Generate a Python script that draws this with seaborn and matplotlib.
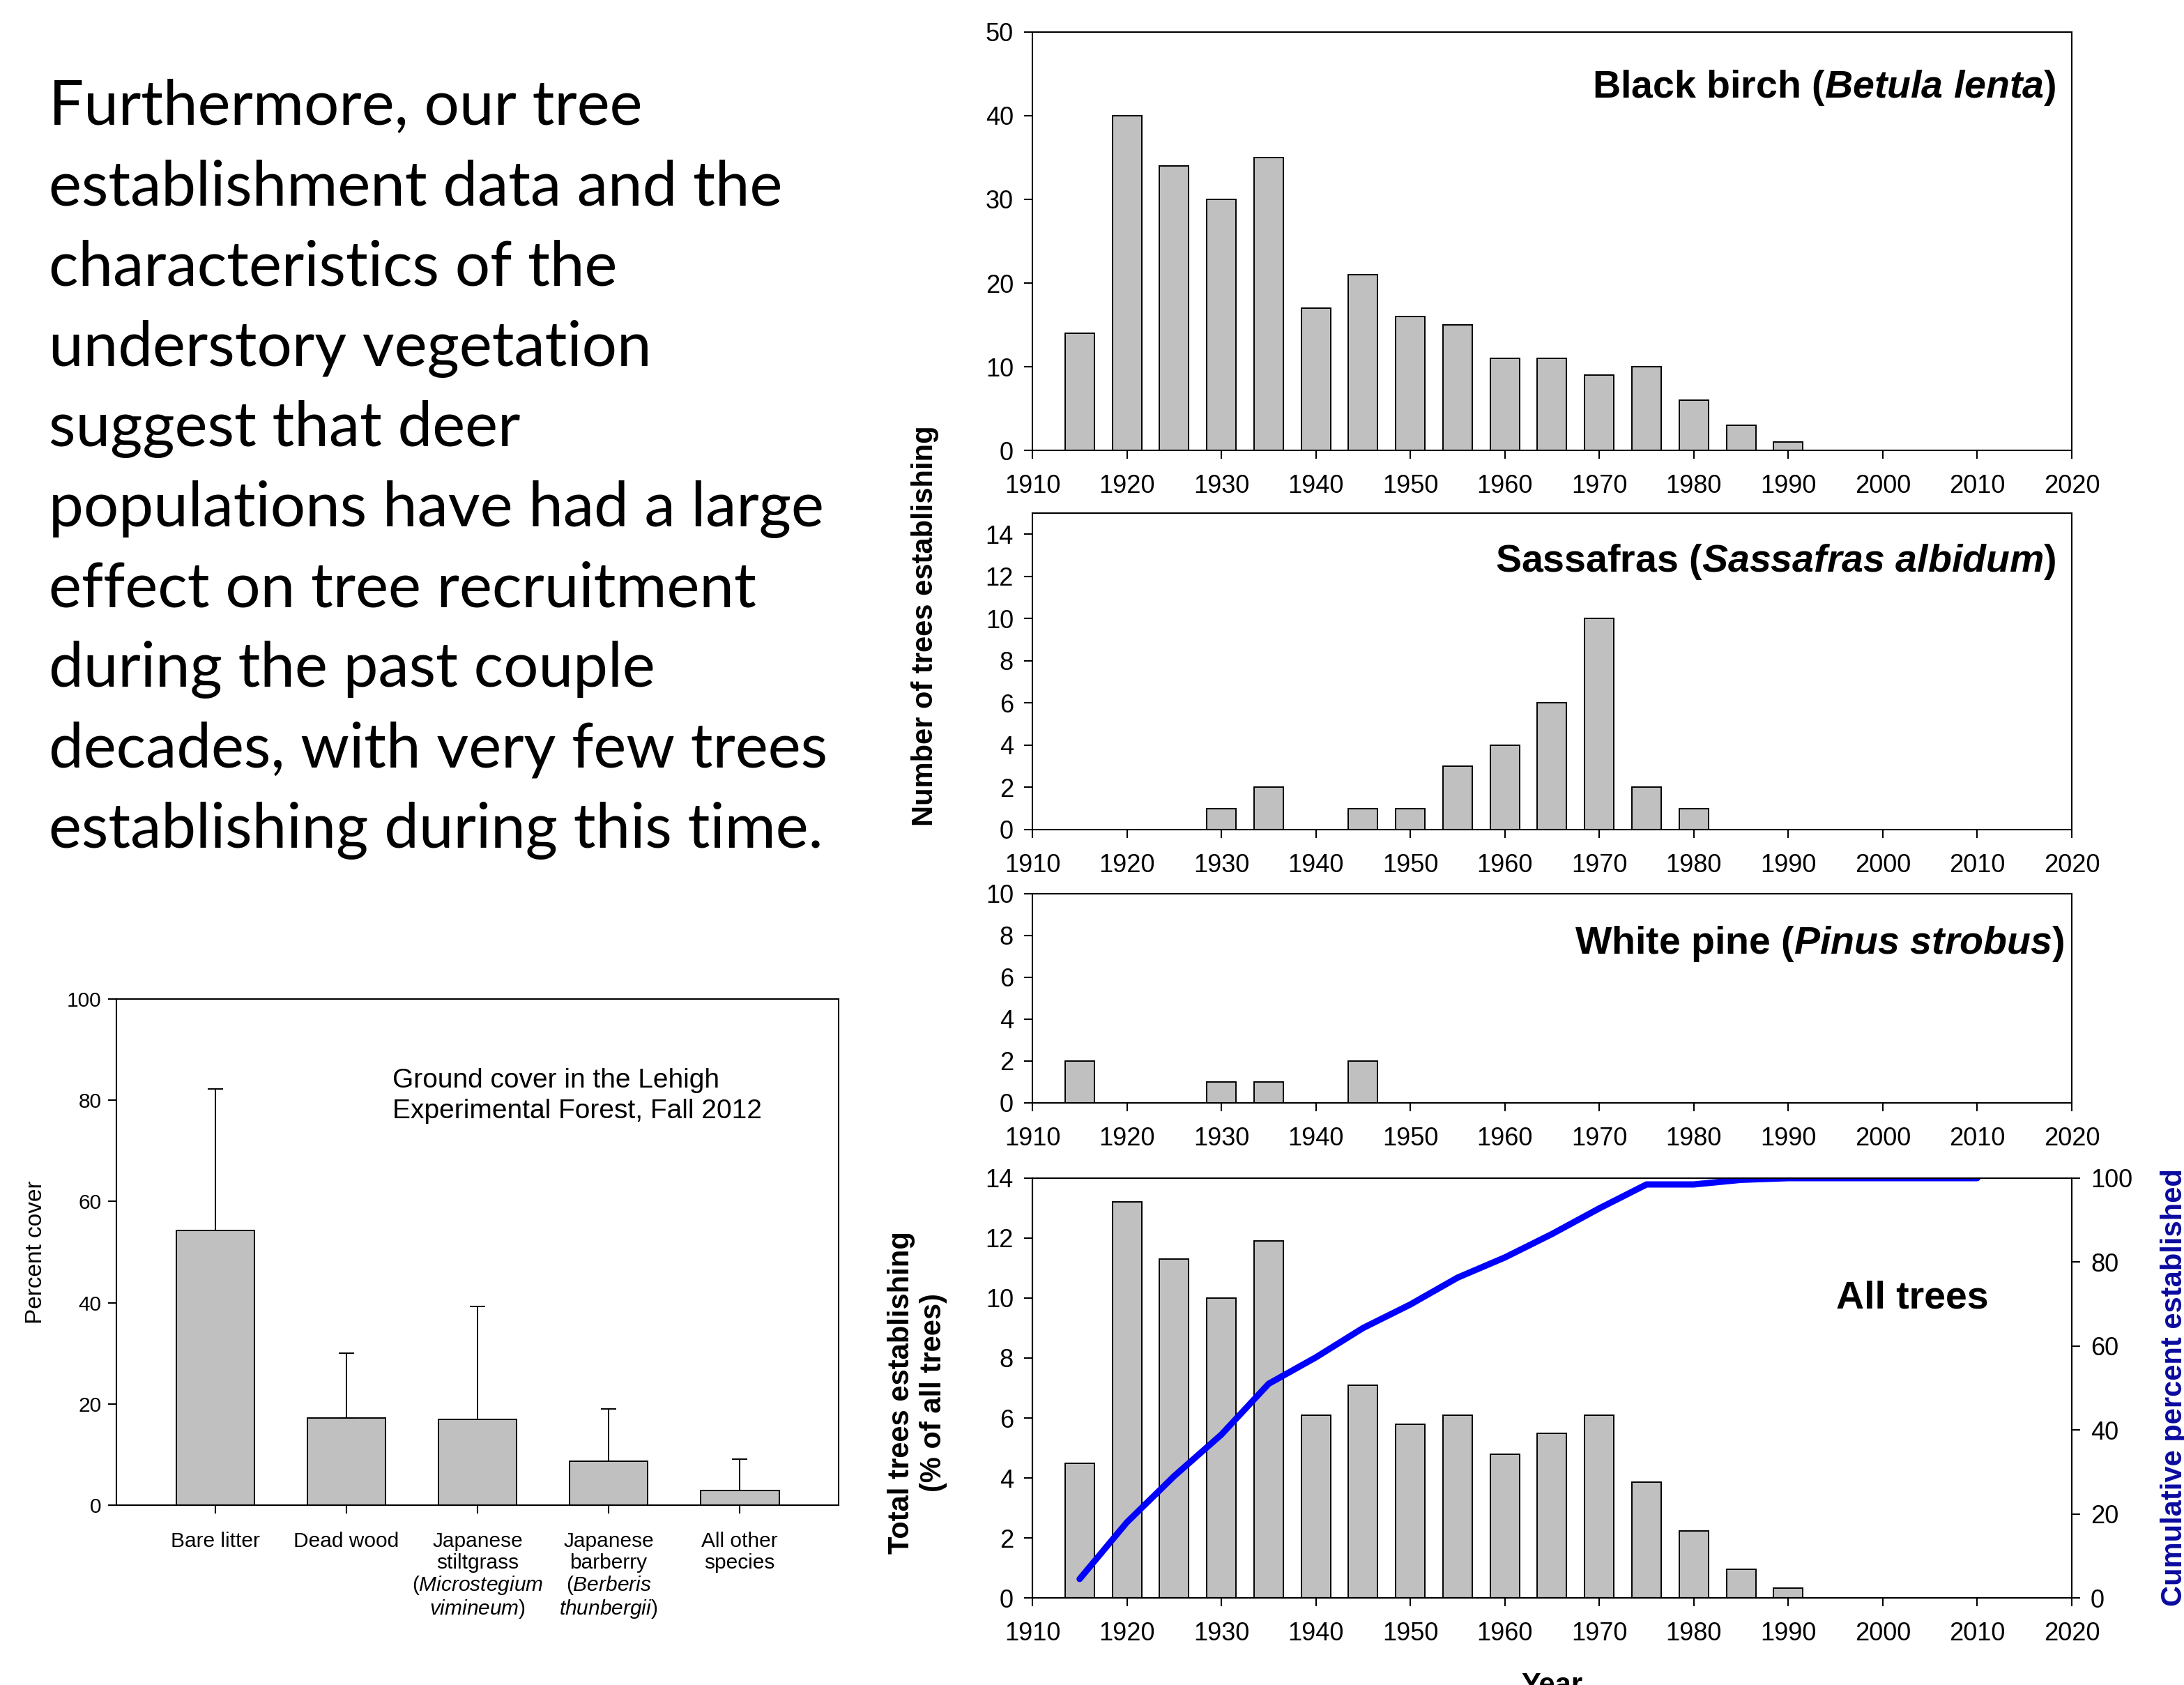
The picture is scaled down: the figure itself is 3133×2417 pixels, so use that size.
import numpy as np
import pandas as pd
import matplotlib
matplotlib.use('Agg')
import matplotlib.pyplot as plt
import seaborn as sns

# Tree establishment by 5-year class (counts, % for all trees)
years = [1915, 1920, 1925, 1930, 1935, 1940, 1945, 1950, 1955, 1960,
         1965, 1970, 1975, 1980, 1985, 1990, 1995, 2000, 2005, 2010]
birch = [14, 40, 34, 30, 35, 17, 21, 16, 15, 11, 11, 9, 10, 6, 3, 1, 0, 0, 0, 0]
sassafras = [0, 0, 0, 1, 2, 0, 1, 1, 3, 4, 6, 10, 2, 1, 0, 0, 0, 0, 0, 0]
white_pine = [2, 0, 0, 1, 1, 0, 2, 0, 0, 0, 0, 0, 0, 0, 0, 0, 0, 0, 0, 0]
all_trees_pct = [4.5, 13.2, 11.3, 10.0, 11.9, 6.1, 7.1, 5.8, 6.1, 4.8,
                 5.5, 6.1, 3.85, 2.24, 0.96, 0.32, 0, 0, 0, 0]
cumulative_pct = [4.5, 18.0, 29.0, 38.9, 51.0, 57.3, 64.3, 69.9, 76.3, 81.1,
                  86.7, 92.8, 98.5, 98.5, 99.6, 100, 100, 100, 100, 100]
year_ticks = list(range(1910, 2021, 10))

# Ground cover, Lehigh Experimental Forest, fall 2012
cover_keys = ['Bare litter', 'Dead wood', 'Japanese stiltgrass', 'Japanese barberry', 'All other species']
cover_labels = ['Bare litter', 'Dead wood',
                'Japanese\nstiltgrass\n($\\mathit{Microstegium}$\n$\\mathit{vimineum}$)',
                'Japanese\nbarberry\n($\\mathit{Berberis}$\n$\\mathit{thunbergii}$)',
                'All other\nspecies']
cover_mean = [54.3, 17.2, 17.0, 8.7, 2.9]
cover_err = [27.9, 12.9, 22.3, 10.3, 6.2]

text_lines = ['Furthermore, our tree',
              'establishment data and the',
              'characteristics of the',
              'understory vegetation',
              'suggest that deer',
              'populations have had a large',
              'effect on tree recruitment',
              'during the past couple',
              'decades, with very few trees',
              'establishing during this time.']

BAR = '#C0C0C0'

sns.set_theme(style='ticks')
plt.rcParams['font.family'] = ['Liberation Sans', 'DejaVu Sans']
plt.rcParams['mathtext.fontset'] = 'custom'
plt.rcParams['mathtext.rm'] = 'Liberation Sans'
plt.rcParams['mathtext.it'] = 'Liberation Sans:italic'
plt.rcParams['mathtext.bf'] = 'Liberation Sans:bold'
plt.rcParams['mathtext.bfit'] = 'Liberation Sans:italic:bold'
plt.rcParams['axes.linewidth'] = 1.5
for key in ['text.color', 'axes.labelcolor', 'xtick.color', 'ytick.color', 'axes.edgecolor']:
    plt.rcParams[key] = 'black'

fig = plt.figure(figsize=(31.33, 24.17), dpi=100)


def style_axes(ax, size=26, pad=11):
    for s in ax.spines.values():
        s.set_visible(True)
        s.set_color('black')
        s.set_linewidth(1.5)
    ax.tick_params(direction='out', length=8.5, width=1.5, labelsize=size,
                   pad=pad, colors='black')
    ax.set_xlabel('')
    ax.set_ylabel('')


def year_panel(rect, values, ymax, yticks, title, tx, ty):
    ax = fig.add_axes(rect)
    sns.barplot(x=years, y=values, native_scale=True, width=0.62, color=BAR,
                saturation=1, edgecolor='black', linewidth=1.4, errorbar=None, ax=ax)
    ax.set_xlim(1910, 2020)
    ax.set_xticks(year_ticks)
    ax.set_xticklabels([str(y) for y in year_ticks])
    ax.set_ylim(0, ymax)
    ax.set_yticks(yticks)
    ax.set_yticklabels([str(v) for v in yticks])
    style_axes(ax)
    ax.tick_params(axis='x', pad=16)
    if title:
        ax.text(tx, ty, title, transform=ax.transAxes, ha='right', va='center',
                fontsize=40, fontweight='bold')
    return ax


left, width = 0.4727, 0.4759
year_panel([left, 0.7327, width, 0.2483], birch, 50, list(range(0, 51, 10)),
           r'Black birch ($\mathbfit{Betula\ lenta}$)', 0.985, 0.867)
year_panel([left, 0.5077, width, 0.1878], sassafras, 15, list(range(0, 15, 2)),
           r'Sassafras ($\mathbfit{Sassafras\ albidum}$)', 0.985, 0.846)
year_panel([left, 0.3455, width, 0.1241], white_pine, 10, list(range(0, 11, 2)),
           r'White pine ($\mathbfit{Pinus\ strobus}$)', 0.993, 0.76)
ax4 = year_panel([left, 0.0517, width, 0.2491], all_trees_pct, 14, list(range(0, 15, 2)),
                 None, 0, 0)
ax4.text(0.773, 0.714, 'All trees', transform=ax4.transAxes, ha='left', va='center',
         fontsize=40, fontweight='bold')

ax4r = ax4.twinx()
sns.lineplot(x=years, y=cumulative_pct, color='#0000FF', linewidth=6.5,
             solid_capstyle='round', ax=ax4r)
ax4r.set_ylim(0, 100)
ax4r.set_yticks(list(range(0, 101, 20)))
ax4r.set_yticklabels([str(v) for v in range(0, 101, 20)])
style_axes(ax4r)
ax4.set_xlim(1910, 2020)

# axis titles for the right-hand panels
fig.text(0.4236, 0.6285, 'Number of trees establishing', rotation=90, ha='center',
         va='center', fontsize=30, fontweight='bold')
fig.text(0.420, 0.1734, 'Total trees establishing\n(% of all trees)', rotation=90,
         ha='center', va='center', fontsize=30, fontweight='bold', linespacing=1.2,
         multialignment='center')
fig.text(0.9955, 0.1767, 'Cumulative percent established', rotation=90, ha='center',
         va='center', fontsize=30, fontweight='bold', color='#0A0AA0')
fig.text(0.7105, 0.0079, 'Year', ha='center', va='top', fontsize=30, fontweight='bold')

# ground cover chart
ax5 = fig.add_axes([0.0533, 0.1067, 0.3307, 0.3004])
cover_df = pd.DataFrame({'category': cover_keys, 'cover': cover_mean})
sns.barplot(data=cover_df, x='category', y='cover', width=0.6, color=BAR, saturation=1,
            edgecolor='black', linewidth=1.4, errorbar=None, ax=ax5)
ax5.errorbar(np.arange(len(cover_mean)), cover_mean,
             yerr=[np.zeros(len(cover_err)), cover_err], fmt='none', ecolor='black',
             elinewidth=1.4, capsize=8, capthick=1.4, zorder=1)
ax5.set_xlim(-0.755, 4.755)
ax5.set_ylim(0, 100)
ax5.set_yticks(list(range(0, 101, 20)))
ax5.set_yticklabels([str(v) for v in range(0, 101, 20)])
ax5.set_xticks(np.arange(len(cover_labels)))
ax5.set_xticklabels(cover_labels)
style_axes(ax5, size=21.5, pad=7)
ax5.tick_params(axis='x', pad=19)
for t in ax5.get_xticklabels():
    t.set_linespacing(1.1)
ax5.text(0.382, 0.864, 'Ground cover in the Lehigh\nExperimental Forest, Fall 2012',
         transform=ax5.transAxes, ha='left', va='top', fontsize=28, linespacing=1.28)
fig.text(0.0163, 0.257, 'Percent cover', rotation=90, ha='center', va='center', fontsize=24)

# text block
for i, line in enumerate(text_lines):
    fig.text(0.0223, 1 - (179 + 115.2 * i) / 2417, line, ha='left', va='baseline',
             fontsize=64, family=['Lato', 'DejaVu Sans'], color='black')

fig.savefig('out.png', dpi=100)
